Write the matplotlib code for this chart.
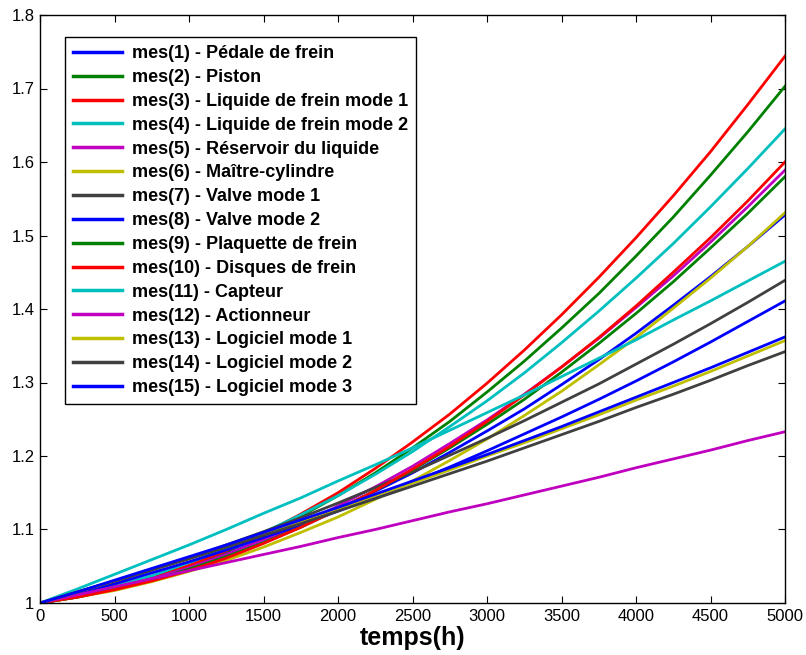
import matplotlib
matplotlib.use("Agg")
import matplotlib.pyplot as plt

plt.rcParams['font.family'] = ['Liberation Sans', 'DejaVu Sans']

t = [0, 250, 500, 750, 1000, 1250, 1500, 1750, 2000, 2250, 2500,
     2750, 3000, 3250, 3500, 3750, 4000, 4250, 4500, 4750, 5000]

labels = [
    "mes(1) - Pédale de frein",
    "mes(2) - Piston",
    "mes(3) - Liquide de frein mode 1",
    "mes(4) - Liquide de frein mode 2",
    "mes(5) - Réservoir du liquide",
    "mes(6) - Maître-cylindre",
    "mes(7) - Valve mode 1",
    "mes(8) - Valve mode 2",
    "mes(9) - Plaquette de frein",
    "mes(10) - Disques de frein",
    "mes(11) - Capteur",
    "mes(12) - Actionneur",
    "mes(13) - Logiciel mode 1",
    "mes(14) - Logiciel mode 2",
    "mes(15) - Logiciel mode 3",
]

mes1 = [1.000, 1.010, 1.022, 1.035, 1.050, 1.067, 1.086, 1.106, 1.128, 1.152, 1.177,
        1.205, 1.234, 1.264, 1.297, 1.331, 1.367, 1.405, 1.444, 1.485, 1.528]
mes2 = [1.000, 1.008, 1.020, 1.034, 1.051, 1.070, 1.093, 1.118, 1.146, 1.177, 1.211,
        1.247, 1.287, 1.329, 1.374, 1.421, 1.472, 1.525, 1.582, 1.641, 1.703]
mes3 = [1.000, 1.008, 1.019, 1.033, 1.051, 1.071, 1.094, 1.121, 1.150, 1.183, 1.219,
        1.257, 1.299, 1.344, 1.392, 1.443, 1.497, 1.554, 1.614, 1.678, 1.744]
mes4 = [1.000, 1.010, 1.023, 1.037, 1.055, 1.074, 1.096, 1.120, 1.146, 1.175, 1.206,
        1.240, 1.275, 1.313, 1.354, 1.397, 1.442, 1.489, 1.539, 1.591, 1.645]
mes5 = [1.000, 1.009, 1.020, 1.033, 1.048, 1.066, 1.086, 1.107, 1.132, 1.158, 1.186,
        1.217, 1.249, 1.284, 1.321, 1.360, 1.402, 1.445, 1.491, 1.539, 1.589]
mes6 = [1.000, 1.008, 1.017, 1.029, 1.043, 1.058, 1.076, 1.096, 1.117, 1.141, 1.166,
        1.194, 1.223, 1.255, 1.288, 1.324, 1.361, 1.401, 1.442, 1.485, 1.531]
mes7 = [1.000, 1.014, 1.029, 1.045, 1.061, 1.079, 1.097, 1.116, 1.136, 1.157, 1.178,
        1.201, 1.224, 1.248, 1.273, 1.298, 1.325, 1.352, 1.380, 1.409, 1.439]
mes8 = [1.000, 1.013, 1.026, 1.041, 1.056, 1.072, 1.089, 1.106, 1.125, 1.144, 1.164,
        1.185, 1.207, 1.230, 1.253, 1.277, 1.302, 1.328, 1.355, 1.383, 1.411]
mes9 = [1.000, 1.008, 1.019, 1.031, 1.046, 1.063, 1.082, 1.103, 1.127, 1.153, 1.181,
        1.211, 1.243, 1.277, 1.314, 1.353, 1.394, 1.437, 1.483, 1.530, 1.580]
mes10 = [1.000, 1.008, 1.018, 1.030, 1.044, 1.061, 1.081, 1.103, 1.127, 1.153, 1.182,
         1.213, 1.247, 1.283, 1.321, 1.361, 1.404, 1.450, 1.497, 1.547, 1.600]
mes11 = [1.000, 1.019, 1.039, 1.059, 1.079, 1.100, 1.122, 1.143, 1.166, 1.188, 1.211,
         1.235, 1.259, 1.283, 1.308, 1.333, 1.358, 1.385, 1.411, 1.438, 1.465]
mes12 = [1.000, 1.011, 1.022, 1.033, 1.044, 1.055, 1.066, 1.077, 1.089, 1.100, 1.112,
         1.124, 1.135, 1.147, 1.159, 1.171, 1.184, 1.196, 1.208, 1.221, 1.233]
mes13 = [1.000, 1.015, 1.030, 1.046, 1.062, 1.078, 1.094, 1.111, 1.128, 1.146, 1.163,
         1.181, 1.200, 1.218, 1.237, 1.256, 1.276, 1.295, 1.315, 1.336, 1.357]
mes14 = [1.000, 1.015, 1.030, 1.045, 1.060, 1.076, 1.092, 1.108, 1.125, 1.142, 1.159,
         1.176, 1.193, 1.211, 1.229, 1.247, 1.266, 1.284, 1.303, 1.323, 1.342]
mes15 = [1.000, 1.015, 1.031, 1.047, 1.063, 1.079, 1.096, 1.113, 1.130, 1.148, 1.166,
         1.184, 1.202, 1.221, 1.240, 1.260, 1.280, 1.300, 1.320, 1.341, 1.362]

series = [mes1, mes2, mes3, mes4, mes5, mes6, mes7, mes8, mes9, mes10,
          mes11, mes12, mes13, mes14, mes15]

colors = [(0, 0, 1), (0, 0.5, 0), (1, 0, 0), (0, 0.75, 0.75),
          (0.75, 0, 0.75), (0.75, 0.75, 0), (0.25, 0.25, 0.25)]

xticks = [0, 500, 1000, 1500, 2000, 2500, 3000, 3500, 4000, 4500, 5000]
yticks = [1.0, 1.1, 1.2, 1.3, 1.4, 1.5, 1.6, 1.7, 1.8]
ytick_labels = ["1", "1.1", "1.2", "1.3", "1.4", "1.5", "1.6", "1.7", "1.8"]

fig = plt.figure(figsize=(8.06, 6.55), dpi=100)
ax = fig.add_axes([40 / 806, 1 - 603 / 655, 745 / 806, 588 / 655])

for i, (y, lab) in enumerate(zip(series, labels)):
    ax.plot(t, y, color=colors[i % 7], lw=2.0, label=lab)

ax.set_xlim(0, 5000)
ax.set_ylim(1.0, 1.8)
ax.set_xticks(xticks)
ax.set_xticklabels([str(v) for v in xticks])
ax.set_yticks(yticks)
ax.set_yticklabels(ytick_labels)
ax.tick_params(direction='in', length=5, width=0.8, top=True, right=True,
               labelsize=12, pad=4)
for s in ax.spines.values():
    s.set_linewidth(1.0)
    s.set_color('black')

ax.set_xlabel("temps(h)", fontsize=18, fontweight='bold', labelpad=2)

leg = ax.legend(loc='upper left', bbox_to_anchor=(25 / 745, (603 - 37) / 588),
                borderaxespad=0, fancybox=False, framealpha=1, edgecolor='black',
                prop={'weight': 'bold', 'size': 13}, handlelength=2.7,
                handletextpad=0.55, labelspacing=0.38, borderpad=0.45)
leg.get_frame().set_linewidth(1.0)
for h in leg.get_lines():
    h.set_linewidth(2.5)

fig.savefig("out.png", dpi=100)
